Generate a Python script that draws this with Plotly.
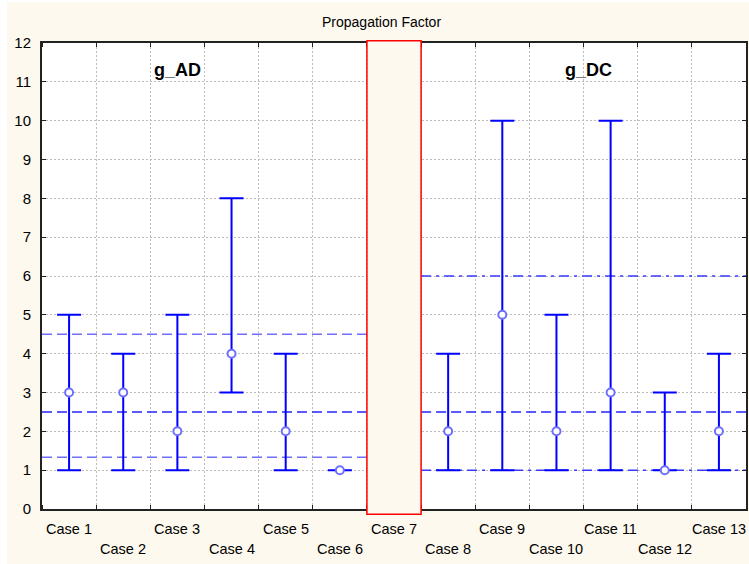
import plotly.graph_objects as go

# ---- data ----
cases = [f"Case {i}" for i in range(1, 14)]
medians = [3, 3, 2, 4, 2, 1, None, 2, 5, 2, 3, 1, 2]
mins = [1, 1, 1, 3, 1, 1, None, 1, 1, 1, 1, 1, 1]
maxs = [5, 4, 5, 8, 4, 1, None, 4, 10, 5, 10, 3, 4]

group_names = ["g_AD", "g_DC"]
group_cases = [[1, 6], [8, 13]]          # first / last case index in each group
group_upper = [4.5, 6.0]
group_mid = [2.5, 2.5]
group_lower = [1.33, 1.0]
empty_case = 7

BLUE = "#0000ff"
LIGHT = "#6f6fff"
CREAM = "#fdf9ee"
FONT = "Liberation Sans, Arial, sans-serif"
GRID = "#bdbdbd"

xs = list(range(1, len(cases) + 1))
err_plus = [None if m is None else mx - m for m, mx in zip(medians, maxs)]
err_minus = [None if m is None else m - mn for m, mn in zip(medians, mins)]

fig = go.Figure()

# group reference lines
for gi in range(len(group_names)):
    a, b = group_cases[gi]
    gx = [a - 0.5, b + 0.5]
    outer_dash = "10px,5px" if gi == 0 else "10px,5px,3px,5px"
    outer_col = LIGHT if gi == 0 else "#3a3aff"
    for val, col, dash in [(group_upper[gi], outer_col, outer_dash),
                           (group_mid[gi], "#2525ff", "10px,5px"),
                           (group_lower[gi], outer_col, outer_dash)]:
        fig.add_trace(go.Scatter(x=gx, y=[val, val], mode="lines",
                                 line=dict(color=col, width=1.5, dash=dash),
                                 hoverinfo="skip", showlegend=False))

# whiskers and medians
fig.add_trace(go.Scatter(
    x=xs, y=medians, mode="markers",
    marker=dict(symbol="circle", size=8, color="white",
                line=dict(color=LIGHT, width=2)),
    error_y=dict(type="data", symmetric=False, array=err_plus,
                 arrayminus=err_minus, color=BLUE, thickness=2, width=12),
    showlegend=False))

# highlighted empty case
fig.add_shape(type="rect", xref="x", yref="paper",
              x0=empty_case - 0.5, x1=empty_case + 0.5, y0=-0.011, y1=1.005,
              fillcolor=CREAM, line=dict(color="#ff0000", width=1.5),
              layer="above")

# category labels, staggered in two rows
for i, name in enumerate(cases):
    fig.add_annotation(x=xs[i], y=0, xref="x", yref="paper",
                       text=name, showarrow=False, yanchor="middle",
                       yshift=-20 if i % 2 == 0 else -40,
                       font=dict(family=FONT, size=14.5, color="black"))

# group titles
fig.add_annotation(x=3, y=11.3, xref="x", yref="y", text="<b>g_AD</b>",
                   showarrow=False, font=dict(family=FONT, size=18, color="black"))
fig.add_annotation(x=10.6, y=11.3, xref="x", yref="y", text="<b>g_DC</b>",
                   showarrow=False, font=dict(family=FONT, size=18, color="black"))

# chart title
fig.add_annotation(x=0.5, y=1, xref="paper", yref="paper", xshift=-13, yshift=21,
                   text="Propagation Factor", showarrow=False, yanchor="middle",
                   font=dict(family=FONT, size=14, color="black"))

# page offset: 2px white at the top and 7px at the left, as in the reference
fig.update_layout(
    width=742, height=562,
    margin=dict(l=35, r=1, t=41, b=55),
    paper_bgcolor=CREAM, plot_bgcolor="white",
    font=dict(family=FONT, size=14, color="black"),
    showlegend=False,
)
fig.update_xaxes(range=[0.5, len(cases) + 0.5], tickvals=xs, showticklabels=False,
                 ticks="", showgrid=False, zeroline=False,
                 showline=True, linecolor="#222222", linewidth=2, mirror="ticks",
                 minor=dict(tickvals=[x - 0.5 for x in xs] + [len(cases) + 0.5],
                            showgrid=True, griddash="2px,2px", gridcolor=GRID,
                            gridwidth=1, ticks="inside", ticklen=4,
                            tickcolor="#222222", tickwidth=1))
fig.update_yaxes(range=[0, 12], dtick=1, tick0=0, showgrid=True, griddash="2px,2px",
                 gridcolor=GRID, gridwidth=1, zeroline=False,
                 ticks="inside", ticklen=4, tickcolor="#222222",
                 showline=True, linecolor="#222222", linewidth=2, mirror="ticks",
                 ticklabelstandoff=6, tickfont=dict(family=FONT, size=15))

fig.write_html(
    "out.html",
    post_script="document.body.style.margin='2px 0 0 7px';"
                "document.documentElement.style.overflow='hidden';"
                "document.body.style.overflow='hidden';",
)
